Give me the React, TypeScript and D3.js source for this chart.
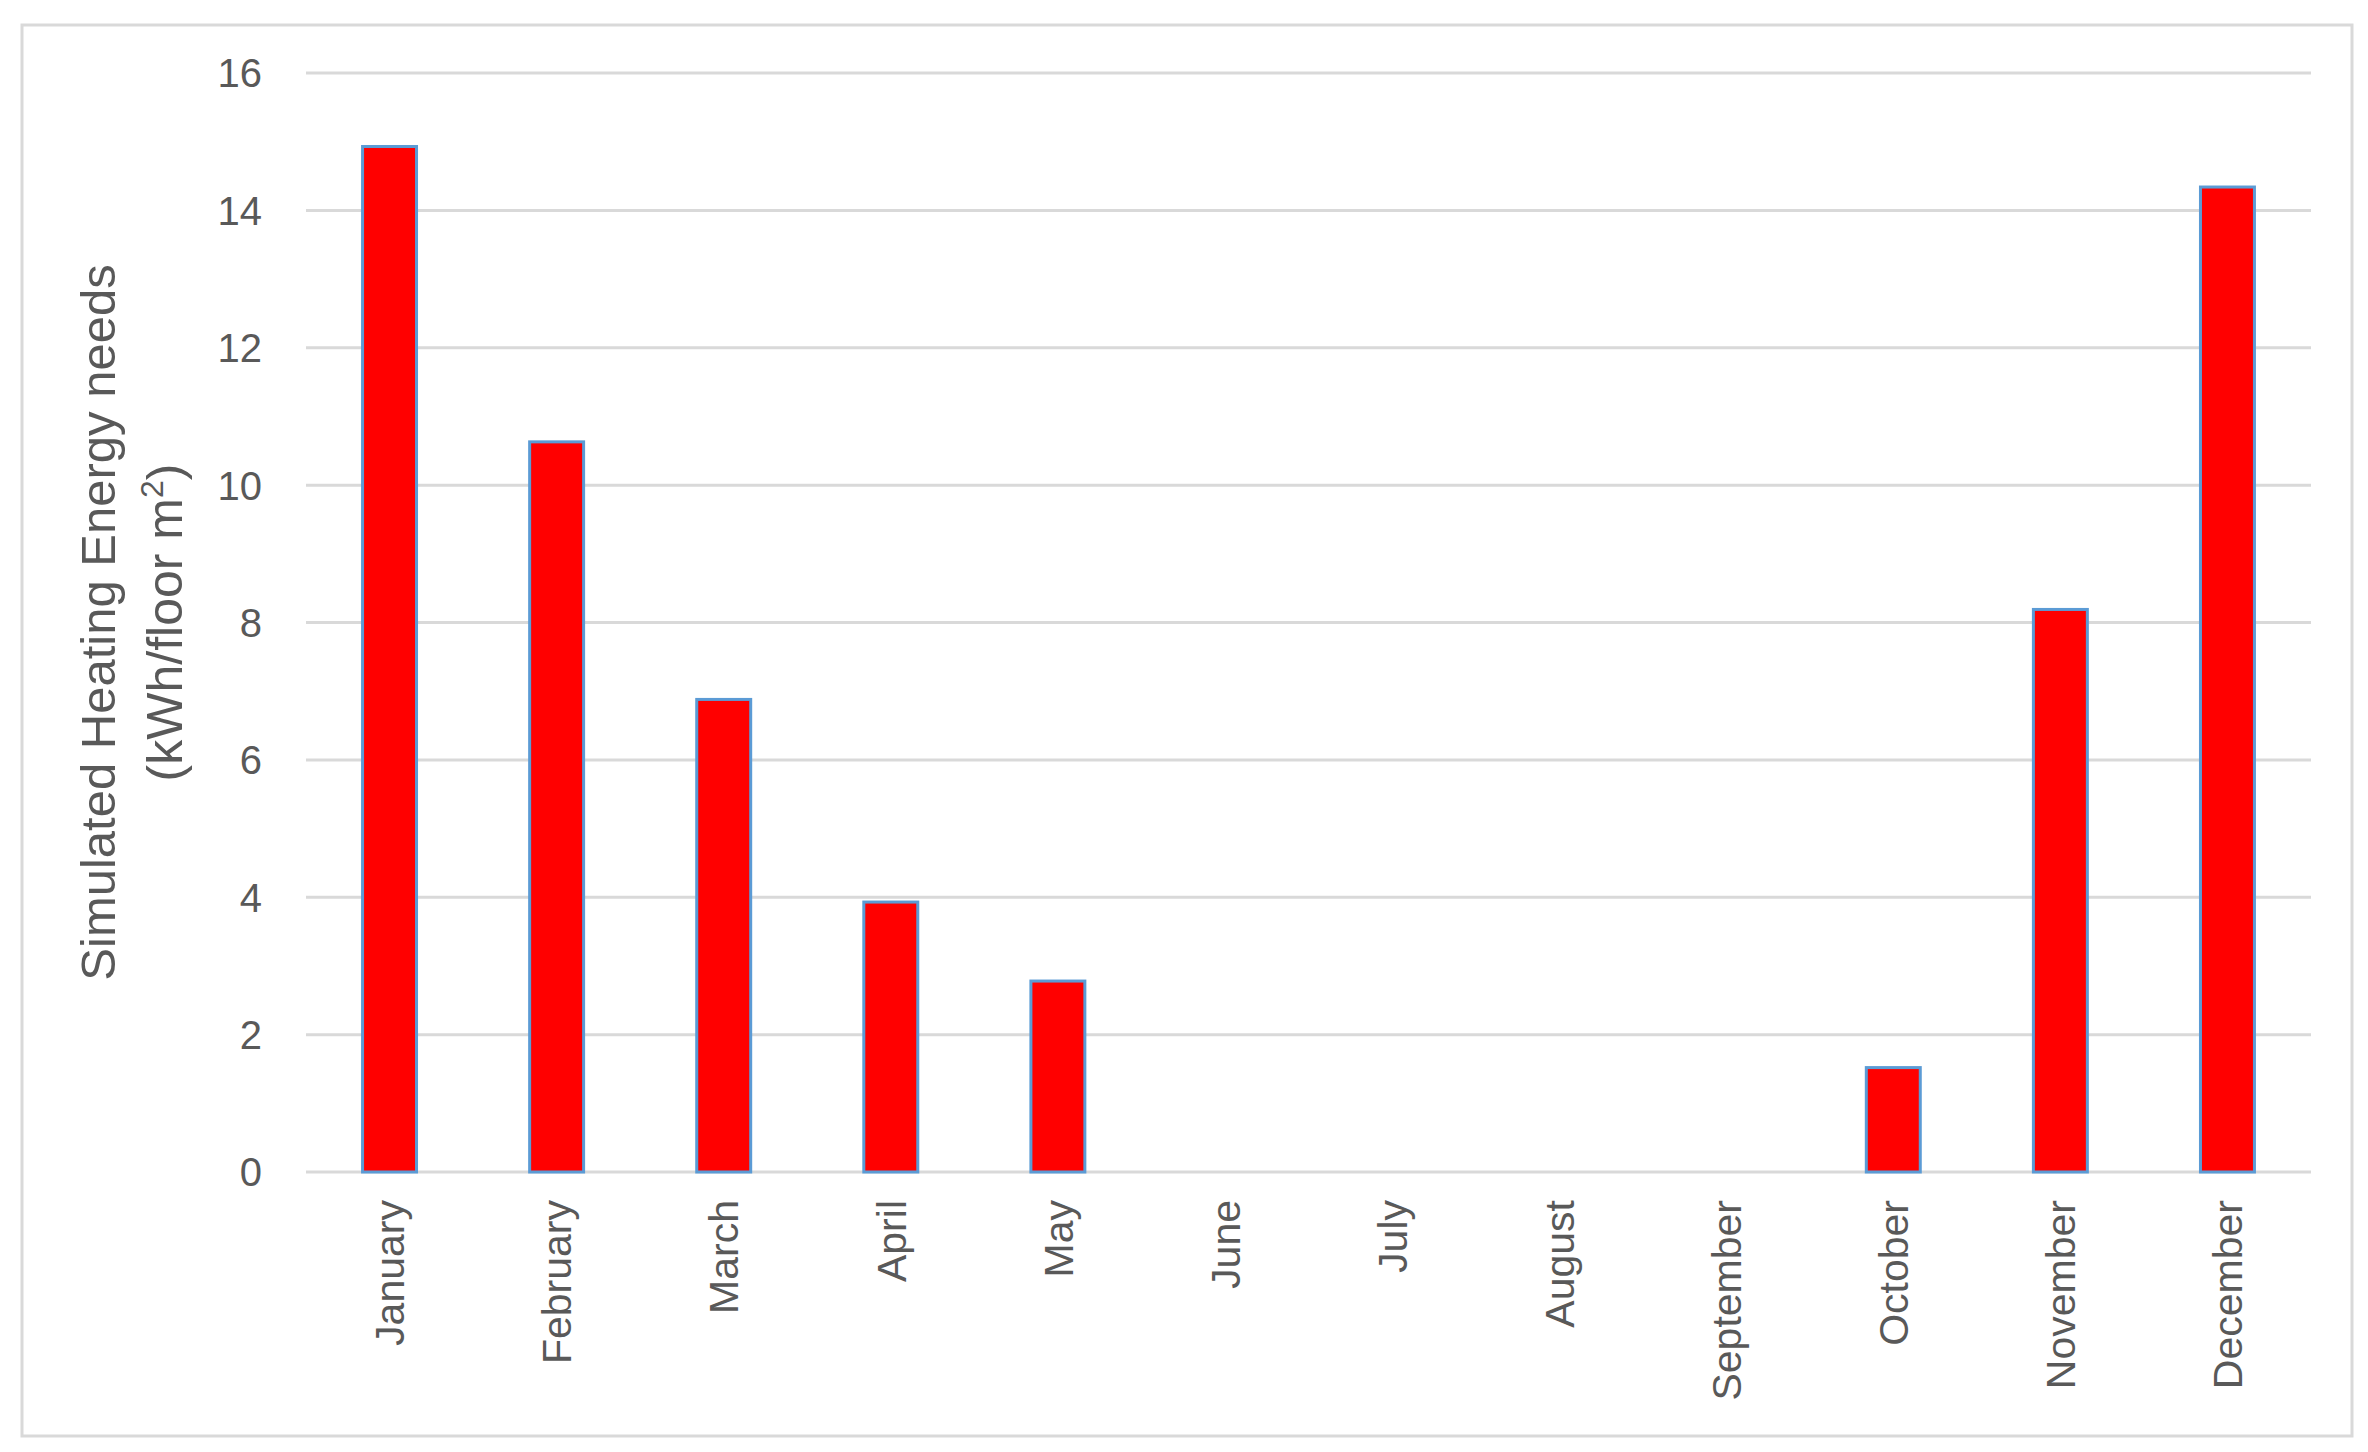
import React from "react";
import * as d3 from "d3";

const months = ["January", "February", "March", "April", "May", "June", "July", "August", "September", "October", "November", "December"];
const heating = [14.93, 10.63, 6.88, 3.93, 2.78, 0, 0, 0, 0, 1.52, 8.19, 14.34];
const yTicks = [0, 2, 4, 6, 8, 10, 12, 14, 16];

const App = () => {
  const ref = React.useRef<SVGSVGElement>(null);

  React.useEffect(() => {
    const height = 1452;
    const margin = { left: 306, right: 2311, top: 73, bottom: 280 };
    const textColor = "#595959";
    const font = "'Liberation Sans', Arial, sans-serif";

    const svg = d3.select(ref.current);
    svg.selectAll("*").remove();

    // outer frame
    svg.append("rect")
      .attr("x", 22).attr("y", 25)
      .attr("width", 2330).attr("height", 1411)
      .attr("fill", "white")
      .attr("stroke", "#d9d9d9")
      .attr("stroke-width", 3);

    const x = d3.scaleBand()
      .domain(months)
      .range([margin.left, margin.right])
      .paddingInner(0.677)
      .paddingOuter(0.3385);

    const y = d3.scaleLinear()
      .domain([0, 16])
      .range([height - margin.bottom, margin.top]);

    // gridlines
    svg.append("g")
      .selectAll("line")
      .data(yTicks)
      .join("line")
      .attr("x1", margin.left)
      .attr("x2", margin.right)
      .attr("y1", d => y(d))
      .attr("y2", d => y(d))
      .attr("stroke", "#d9d9d9")
      .attr("stroke-width", 3);

    // y tick labels
    svg.append("g")
      .selectAll("text")
      .data(yTicks)
      .join("text")
      .attr("x", 262)
      .attr("y", d => y(d))
      .attr("dy", "0.36em")
      .attr("text-anchor", "end")
      .attr("font-family", font)
      .attr("font-size", 40)
      .attr("fill", textColor)
      .text(d => d);

    // bars
    svg.append("g")
      .selectAll("rect")
      .data(heating.map((v, i) => ({ month: months[i], v })).filter(d => d.v > 0))
      .join("rect")
      .attr("x", d => x(d.month)!)
      .attr("width", x.bandwidth())
      .attr("y", d => y(d.v))
      .attr("height", d => y(0) - y(d.v))
      .attr("fill", "#ff0000")
      .attr("stroke", "#5b9bd5")
      .attr("stroke-width", 3);

    // month labels
    svg.append("g")
      .selectAll("text")
      .data(months)
      .join("text")
      .attr("transform", d => `translate(${x(d)! + x.bandwidth() / 2},1200) rotate(-90)`)
      .attr("dy", "0.36em")
      .attr("text-anchor", "end")
      .attr("font-family", font)
      .attr("font-size", 41)
      .attr("fill", textColor)
      .text(d => d);

    // y axis title
    const cy = (y(0) + y(16)) / 2;
    svg.append("text")
      .attr("transform", `translate(115,${cy}) rotate(-90)`)
      .attr("text-anchor", "middle")
      .attr("font-family", font)
      .attr("font-size", 49)
      .attr("fill", textColor)
      .text("Simulated Heating Energy needs");

    const t2 = svg.append("text")
      .attr("transform", `translate(182,${cy}) rotate(-90)`)
      .attr("text-anchor", "middle")
      .attr("font-family", font)
      .attr("font-size", 50)
      .attr("fill", textColor);
    t2.append("tspan").text("(kWh/floor m");
    t2.append("tspan").attr("font-size", 32).attr("dy", -19).text("2");
    t2.append("tspan").attr("dy", 19).text(")");
  }, []);

  return (
    <svg
      ref={ref}
      width={2368}
      height={1452}
      style={{ position: "absolute", left: 0, top: 0, background: "white" }}
    />
  );
};

export default App;
